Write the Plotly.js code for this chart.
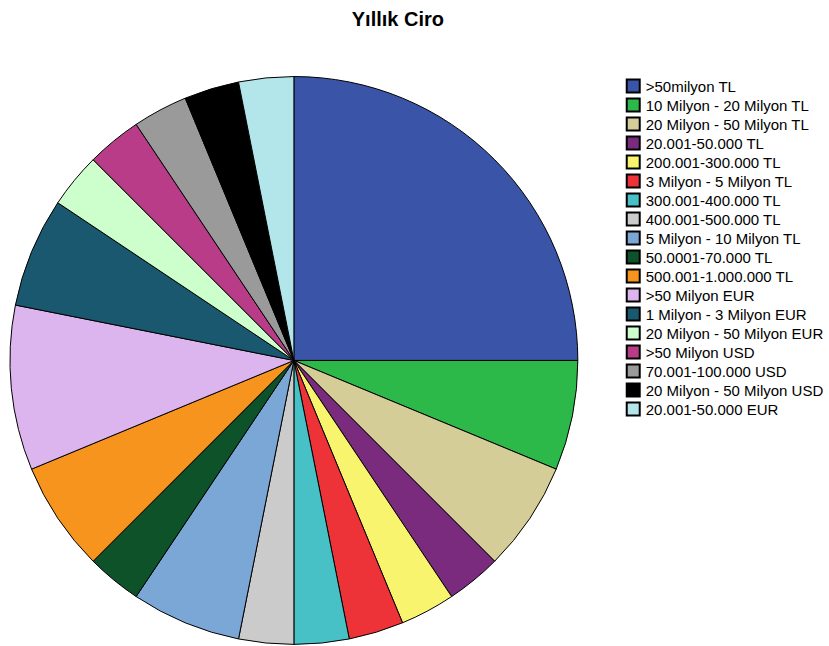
<!DOCTYPE html>
<html>
<head>
<meta charset="utf-8">
<script src="https://cdn.plot.ly/plotly-3.0.1.min.js"></script>
<style>html,body{margin:0;padding:0;background:#fff;}#chart{width:829px;height:646px;}</style>
</head>
<body>
<div id="chart"></div>
<script>
const labels = [">50milyon TL","10 Milyon - 20 Milyon TL","20 Milyon - 50 Milyon TL","20.001-50.000 TL","200.001-300.000 TL","3 Milyon - 5 Milyon TL","300.001-400.000 TL","400.001-500.000 TL","5 Milyon - 10 Milyon TL","50.0001-70.000 TL","500.001-1.000.000 TL",">50 Milyon EUR","1 Milyon - 3 Milyon EUR","20 Milyon - 50 Milyon EUR",">50 Milyon USD","70.001-100.000 USD","20 Milyon - 50 Milyon USD","20.001-50.000 EUR"];
const values = [8,2,2,1,1,1,1,1,2,1,2,3,2,1,1,1,1,1];
const colors = ["#3A55A8","#2DB84A","#D4CD97","#7A2B7E","#F8F46E","#EE3338","#47C1C6","#CBCBCB","#7BA7D7","#0E5229","#F7941D","#DCB5EE","#1A5870","#CCFFCC","#B83C87","#9A9A9A","#000000","#B3E6EA"];

const trace = {
  type: "pie",
  labels: labels,
  values: values,
  sort: false,
  direction: "clockwise",
  rotation: 0,
  textinfo: "none",
  hoverinfo: "label+value+percent",
  marker: {colors: colors, line: {color: "#000000", width: 1}},
  domain: {x: [0.0121, 0.7021], y: [0, 0.884]}
};

const layout = {
  width: 829, height: 646,
  margin: {l: 0, r: 0, t: 0, b: 0},
  paper_bgcolor: "#ffffff",
  title: {text: "<b>Yıllık Ciro</b>", x: 0.48, xanchor: "center", y: 0.97, yanchor: "middle",
          font: {family: "Liberation Sans, Arial, sans-serif", size: 20, color: "#000"}},
  showlegend: true,
  legend: {x: 0.736, xanchor: "left", y: 0.892, yanchor: "top",
           font: {family: "Liberation Sans, Arial, sans-serif", size: 15, color: "#000"},
           tracegroupgap: 0, itemwidth: 30, traceorder: "normal"},
  font: {family: "Liberation Sans, Arial, sans-serif"}
};

Plotly.newPlot("chart", [trace], layout, {displayModeBar: false, staticPlot: true}).then(function(gd){
  const items = gd.querySelectorAll('.legend .traces');
  let y0 = null;
  items.forEach(function(g, i){
    const m = /translate\(([-\d.]+),\s*([-\d.]+)\)/.exec(g.getAttribute('transform') || '');
    if (!m) return;
    const x = parseFloat(m[1]);
    if (y0 === null) y0 = parseFloat(m[2]);
    g.setAttribute('transform', 'translate(' + x + ',' + (y0 + i * 19) + ')');
  });
  gd.querySelectorAll('.legend .legendpoints path').forEach(function(p){
    p.setAttribute('d', 'M6.5,6.5H-6.5V-6.5H6.5Z');
    p.setAttribute('transform', 'translate(27.5,0)');
    p.style.strokeWidth = '2px';
    p.style.stroke = '#000';
  });
});
</script>
</body>
</html>
